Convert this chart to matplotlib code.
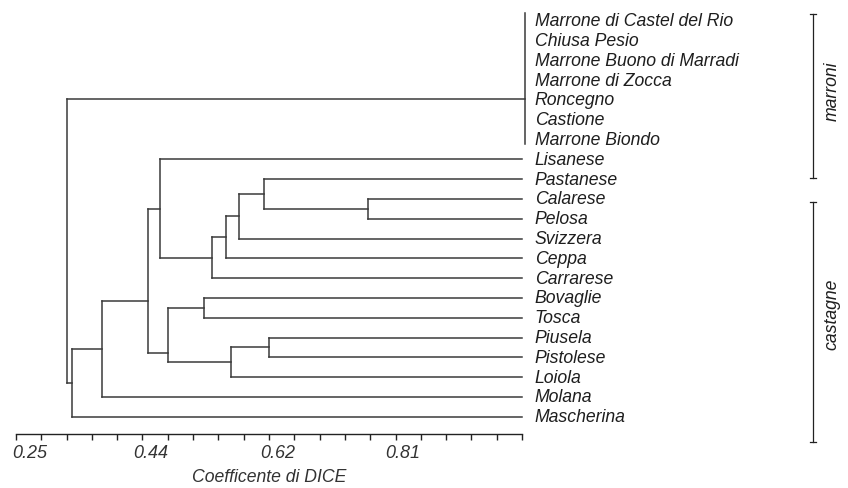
import numpy as np
import matplotlib
matplotlib.use('Agg')
import matplotlib.pyplot as plt
from matplotlib.transforms import ScaledTranslation

# leaves, top to bottom
leaves = ['Marrone di Castel del Rio', 'Chiusa Pesio', 'Marrone Buono di Marradi',
          'Marrone di Zocca', 'Roncegno', 'Castione', 'Marrone Biondo',
          'Lisanese', 'Pastanese', 'Calarese', 'Pelosa', 'Svizzera', 'Ceppa',
          'Carrarese', 'Bovaglie', 'Tosca', 'Piusela', 'Pistolese', 'Loiola',
          'Molana', 'Mascherina']

# merges: (node, children, DICE coefficient)
merges = [
    ('cal_pel', ['Calarese', 'Pelosa'], 0.771),
    ('pas', ['Pastanese', 'cal_pel'], 0.617),
    ('svi', ['pas', 'Svizzera'], 0.581),
    ('cep', ['svi', 'Ceppa'], 0.561),
    ('car', ['cep', 'Carrarese'], 0.540),
    ('lis', ['Lisanese', 'car'], 0.464),
    ('bov_tos', ['Bovaglie', 'Tosca'], 0.528),
    ('piu_pis', ['Piusela', 'Pistolese'], 0.625),
    ('loi', ['piu_pis', 'Loiola'], 0.568),
    ('lower', ['bov_tos', 'loi'], 0.476),
    ('castagne', ['lis', 'lower'], 0.446),
    ('mol', ['castagne', 'Molana'], 0.378),
    ('mas', ['mol', 'Mascherina'], 0.3334),
    ('marroni', leaves[:7], 1.005),
    ('root', ['marroni', 'mas'], 0.326),
]
# where the parent link meets a node (leaf units), when not at the midpoint
attach_override = {'marroni': 3.95, 'lower': 16.8, 'castagne': 14.17}
span_override = {'marroni': (-0.39, 6.23)}

groups = ['marroni', 'castagne']
group_spans = [(-0.34, 7.96), (9.17, 21.29)]
group_label_y = [3.5, 14.76]

tick_values = [0.25, 0.4375, 0.625, 0.8125, 1.0]
tick_labels = ['0.25', '0.44', '0.62', '0.81', '']
label_shift_px = [14, 8, 9, 7, 0]
minor_step = 0.0375


def main():
    plt.rcParams['font.family'] = ['Liberation Sans', 'DejaVu Sans']
    plt.rcParams['font.style'] = 'italic'
    fs = 12.7
    lc = '#3a3a3a'
    tc = '#1e1e1e'

    fig = plt.figure(figsize=(8.48, 4.89), dpi=100)
    ax = fig.add_axes([16 / 848, 1 - 435 / 489, 506 / 848, 435 / 489])

    ypos = {name: i for i, name in enumerate(leaves)}
    xpos = {name: 1.0 for name in leaves}
    for name, children, h in merges:
        ys = [ypos[c] for c in children]
        ypos[name] = attach_override.get(name, (min(ys) + max(ys)) / 2)
        xpos[name] = h
        for c in children:
            if h >= xpos[c]:
                continue  # identical leaves, no branch
            ax.plot([h, xpos[c]], [ypos[c], ypos[c]], color=lc, lw=1.1,
                    solid_capstyle='projecting', clip_on=False)
        y0, y1 = span_override.get(name, (min(ys), max(ys)))
        ax.plot([h, h], [y0, y1], color=lc, lw=1.1,
                solid_capstyle='projecting', clip_on=False)

    for i, name in enumerate(leaves):
        ax.text(1.019, i, name, ha='left', va='center', fontsize=fs,
                color=tc, clip_on=False)

    # group brackets
    bx = 1.4317
    cap = 0.0045
    for g, (y0, y1), ly in zip(groups, group_spans, group_label_y):
        ax.plot([bx, bx], [y0, y1], color='#222222', lw=0.9, clip_on=False)
        ax.plot([bx - cap, bx + cap], [y0, y0], color='#222222', lw=0.9, clip_on=False)
        ax.plot([bx - cap, bx + cap], [y1, y1], color='#222222', lw=0.9, clip_on=False)
        ax.text(1.4594, ly, g, rotation=90, ha='center', va='center',
                fontsize=fs, color=tc, clip_on=False)

    ax.set_xlim(0.25, 1.0)
    ax.set_ylim(20.87, -1.096)
    for s in ['left', 'top', 'right']:
        ax.spines[s].set_visible(False)
    ax.spines['bottom'].set_color('#222222')
    ax.spines['bottom'].set_linewidth(1.0)
    ax.set_yticks([])

    ax.set_xticks(tick_values)
    ax.set_xticklabels(tick_labels)
    ax.set_xticks(np.arange(0.25, 1.0001, minor_step), minor=True)
    ax.tick_params(axis='x', which='both', direction='out', length=4.5,
                   width=1.0, color='#222222', labelsize=fs + 0.3,
                   labelcolor='#333333', pad=3)
    for lab, dx in zip(ax.get_xticklabels(), label_shift_px):
        lab.set_transform(lab.get_transform() + ScaledTranslation(dx / 100, 0, fig.dpi_scale_trans))

    ax.set_xlabel('Coefficente di DICE', fontsize=fs, color='#333333', va='center')
    ax.xaxis.set_label_coords(0.5, -43 / 435)

    fig.savefig('out.png', dpi=100)
    plt.close(fig)


if __name__ == '__main__':
    main()
